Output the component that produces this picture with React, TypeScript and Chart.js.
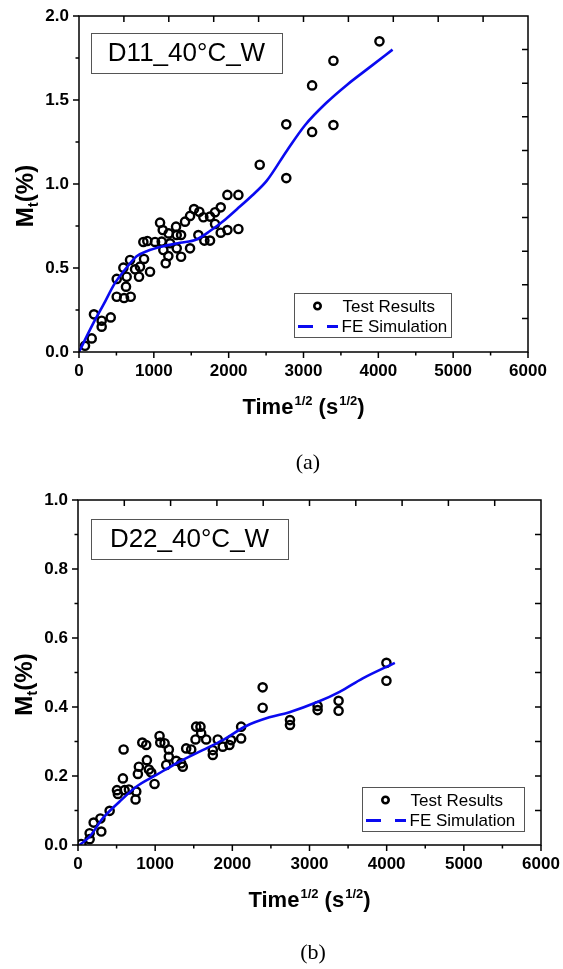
import React, { useEffect, useRef } from "react";
import { Chart, registerables } from "chart.js";

Chart.register(...registerables);

// ---------- Data: panel (a) D11_40°C_W ----------
const testXA = [80, 170, 200, 303, 303, 424, 504, 602, 691, 628, 504, 637, 593, 682, 749, 802, 815, 869, 949, 860, 913, 1016, 1083, 1119, 1105, 1127, 1159, 1194, 1199, 1217, 1297, 1306, 1306, 1364, 1364, 1417, 1484, 1484, 1537, 1595, 1608, 1662, 1675, 1751, 1751, 1818, 1818, 1894, 1894, 1983, 1983, 2130, 2130, 2415, 2770, 2770, 3115, 3115, 3400, 3400, 4015];
const testYA = [0.037, 0.081, 0.224, 0.186, 0.151, 0.206, 0.329, 0.321, 0.329, 0.389, 0.435, 0.448, 0.502, 0.548, 0.492, 0.448, 0.508, 0.554, 0.478, 0.655, 0.661, 0.655, 0.77, 0.726, 0.657, 0.607, 0.528, 0.571, 0.706, 0.647, 0.746, 0.696, 0.617, 0.567, 0.696, 0.776, 0.81, 0.617, 0.851, 0.696, 0.835, 0.802, 0.663, 0.663, 0.806, 0.832, 0.762, 0.861, 0.71, 0.935, 0.726, 0.935, 0.732, 1.115, 1.035, 1.355, 1.31, 1.587, 1.351, 1.734, 1.849];
const simXA = [0, 190, 325, 480, 615, 770, 905, 1130, 1350, 1570, 1750, 1930, 2110, 2310, 2510, 2780, 3020, 3310, 3580, 3900, 4190];
const simYA = [0, 0.17, 0.28, 0.41, 0.49, 0.57, 0.6, 0.63, 0.65, 0.67, 0.72, 0.78, 0.85, 0.93, 1.02, 1.2, 1.35, 1.485, 1.59, 1.7, 1.8];

// ---------- Data: panel (b) D22_40°C_W ----------
const testXB = [44, 151, 151, 203, 290, 302, 410, 505, 517, 582, 591, 604, 660, 746, 755, 776, 789, 833, 884, 893, 919, 949, 992, 1057, 1066, 1122, 1143, 1177, 1177, 1273, 1337, 1358, 1402, 1467, 1523, 1531, 1587, 1596, 1661, 1747, 1747, 1811, 1876, 1962, 1984, 2114, 2114, 2393, 2393, 2747, 2747, 3105, 3105, 3377, 3377, 3997, 3997];
const testYB = [0.003, 0.034, 0.017, 0.065, 0.077, 0.039, 0.099, 0.159, 0.148, 0.193, 0.277, 0.159, 0.161, 0.132, 0.155, 0.206, 0.227, 0.297, 0.29, 0.246, 0.219, 0.21, 0.177, 0.316, 0.297, 0.295, 0.232, 0.277, 0.256, 0.244, 0.237, 0.227, 0.28, 0.277, 0.306, 0.343, 0.343, 0.324, 0.306, 0.275, 0.261, 0.306, 0.285, 0.29, 0.304, 0.343, 0.309, 0.457, 0.398, 0.362, 0.348, 0.403, 0.391, 0.418, 0.389, 0.528, 0.476];
const simXB = [20, 150, 320, 540, 755, 1015, 1275, 1615, 1875, 2180, 2480, 2740, 3110, 3390, 3690, 4106];
const simYB = [0, 0.024, 0.077, 0.126, 0.169, 0.203, 0.237, 0.275, 0.304, 0.345, 0.37, 0.385, 0.415, 0.444, 0.483, 0.528];

// ---------- Labels ----------
const titleA = "D11_40°C_W";
const titleB = "D22_40°C_W";
const legendLabels = ["Test Results", "FE Simulation"];
const xTitleMain = ["Time", " (s", ")"];
const supText = "1/2";
const captionA = "(a)";
const captionB = "(b)";

const SANS = "'Liberation Sans', Arial, Helvetica, sans-serif";
const SERIF = "'Liberation Serif', 'Times New Roman', serif";
const BLUE = "#0a0af0";

type PanelCfg = {
  canvasH: number;
  pad: { left: number; right: number; top: number; bottom: number };
  yAxisW: number;
  xMax: number;
  xMajor: number;
  xMinor: number;
  yMax: number;
  yMajor: number;
  yMinor: number;
  topDivs: number;
  rightDivs: number;
  title: string;
  titleBox: { dx: number; dy: number; w: number; h: number };
  legendBox: { dx: number; dyb: number; w: number; h: number };
  testX: number[];
  testY: number[];
  simX: number[];
  simY: number[];
};

function decoPlugin(cfg: PanelCfg) {
  return {
    id: "deco",
    afterDatasetsDraw(chart: any) {
      const ctx: CanvasRenderingContext2D = chart.ctx;
      const a = chart.chartArea;
      const xs = chart.scales.x;
      const ys = chart.scales.y;
      ctx.save();
      ctx.strokeStyle = "#000";
      ctx.lineWidth = 1.5;
      ctx.lineCap = "butt";
      // frame
      ctx.strokeRect(a.left, a.top, a.right - a.left, a.bottom - a.top);
      ctx.beginPath();
      // bottom ticks (outward)
      for (let v = 0; v <= cfg.xMax + 1e-9; v += cfg.xMinor) {
        const px = xs.getPixelForValue(v);
        const major = Math.abs(v / cfg.xMajor - Math.round(v / cfg.xMajor)) < 1e-6;
        ctx.moveTo(px, a.bottom);
        ctx.lineTo(px, a.bottom + (major ? 6 : 3.5));
      }
      // left ticks (outward)
      for (let v = 0; v <= cfg.yMax + 1e-9; v += cfg.yMinor) {
        const py = ys.getPixelForValue(v);
        const major = Math.abs(v / cfg.yMajor - Math.round(v / cfg.yMajor)) < 1e-6;
        ctx.moveTo(a.left, py);
        ctx.lineTo(a.left - (major ? 6 : 3.5), py);
      }
      // top ticks (inward)
      for (let i = 1; i < cfg.topDivs; i++) {
        const px = xs.getPixelForValue((cfg.xMax / cfg.topDivs) * i);
        ctx.moveTo(px, a.top);
        ctx.lineTo(px, a.top + 6);
      }
      // right ticks (inward)
      for (let i = 1; i < cfg.rightDivs; i++) {
        const py = ys.getPixelForValue((cfg.yMax / cfg.rightDivs) * i);
        ctx.moveTo(a.right, py);
        ctx.lineTo(a.right - 6, py);
      }
      ctx.stroke();

      // title box
      const tb = cfg.titleBox;
      const tx = a.left + tb.dx;
      const ty = a.top + tb.dy;
      ctx.fillStyle = "#fff";
      ctx.fillRect(tx, ty, tb.w, tb.h);
      ctx.strokeStyle = "#555";
      ctx.lineWidth = 1;
      ctx.strokeRect(tx + 0.5, ty + 0.5, tb.w, tb.h);
      ctx.fillStyle = "#000";
      ctx.font = `26px ${SANS}`;
      ctx.textAlign = "center";
      ctx.textBaseline = "middle";
      ctx.fillText(cfg.title, tx + tb.w / 2, ty + tb.h / 2 + 1);

      // legend box
      const lb = cfg.legendBox;
      const lx = a.left + lb.dx;
      const ly = a.bottom - lb.dyb;
      ctx.fillStyle = "#fff";
      ctx.fillRect(lx, ly, lb.w, lb.h);
      ctx.strokeStyle = "#555";
      ctx.lineWidth = 1;
      ctx.strokeRect(lx + 0.5, ly + 0.5, lb.w, lb.h);
      const r1 = ly + 13;
      const r2 = ly + 33.5;
      // marker
      ctx.strokeStyle = "#000";
      ctx.lineWidth = 2.6;
      ctx.beginPath();
      ctx.arc(lx + 23.5, r1, 3.2, 0, Math.PI * 2);
      ctx.stroke();
      // dashed line sample
      ctx.strokeStyle = BLUE;
      ctx.lineWidth = 3;
      ctx.beginPath();
      ctx.moveTo(lx + 4, r2);
      ctx.lineTo(lx + 19, r2);
      ctx.moveTo(lx + 33, r2);
      ctx.lineTo(lx + 44, r2);
      ctx.stroke();
      ctx.fillStyle = "#000";
      ctx.font = `17px ${SANS}`;
      ctx.textAlign = "left";
      ctx.textBaseline = "middle";
      ctx.fillText(legendLabels[0], lx + 48.5, r1 + 1);
      ctx.fillText(legendLabels[1], lx + 47.5, r2 + 1);

      // x-axis title with superscripts
      const mainF = `bold 22px ${SANS}`;
      const supF = `bold 13px ${SANS}`;
      ctx.font = mainF;
      const w0 = ctx.measureText(xTitleMain[0]).width;
      const w1 = ctx.measureText(xTitleMain[1]).width;
      const w2 = ctx.measureText(xTitleMain[2]).width;
      ctx.font = supF;
      const ws = ctx.measureText(supText).width;
      const total = w0 + ws + w1 + ws + w2 + 2;
      let cx = (a.left + a.right) / 2 - total / 2;
      const base = a.bottom + 62;
      ctx.textAlign = "left";
      ctx.textBaseline = "alphabetic";
      ctx.font = mainF;
      ctx.fillText(xTitleMain[0], cx, base);
      cx += w0 + 1;
      ctx.font = supF;
      ctx.fillText(supText, cx, base - 9);
      cx += ws;
      ctx.font = mainF;
      ctx.fillText(xTitleMain[1], cx, base);
      cx += w1 + 1;
      ctx.font = supF;
      ctx.fillText(supText, cx, base - 9);
      cx += ws;
      ctx.font = mainF;
      ctx.fillText(xTitleMain[2], cx, base);

      // y-axis title M_t(%) rotated
      const yF = `bold 24px ${SANS}`;
      const subF = `bold 15px ${SANS}`;
      ctx.font = yF;
      const wm = ctx.measureText("M").width;
      const wp = ctx.measureText("(%)").width;
      ctx.font = subF;
      const wt = ctx.measureText("t").width;
      const ytot = wm + wt + wp;
      ctx.translate(a.left - 46, (a.top + a.bottom) / 2 + 12);
      ctx.rotate(-Math.PI / 2);
      let sx = -ytot / 2;
      ctx.font = yF;
      ctx.fillText("M", sx, 0);
      sx += wm;
      ctx.font = subF;
      ctx.fillText("t", sx, 5);
      sx += wt;
      ctx.font = yF;
      ctx.fillText("(%)", sx, 0);
      ctx.restore();
    },
  };
}

function Panel({ cfg }: { cfg: PanelCfg }) {
  const ref = useRef<HTMLCanvasElement | null>(null);
  useEffect(() => {
    if (!ref.current) return;
    const tickFont = { family: SANS, size: 17, weight: "bold" as const };
    const chart = new Chart(ref.current, {
      type: "scatter",
      data: {
        datasets: [
          {
            label: legendLabels[1],
            data: cfg.simX.map((x, i) => ({ x, y: cfg.simY[i] })),
            showLine: true,
            borderColor: BLUE,
            backgroundColor: BLUE,
            borderWidth: 2.6,
            pointRadius: 0,
            cubicInterpolationMode: "monotone",
          } as any,
          {
            label: legendLabels[0],
            data: cfg.testX.map((x, i) => ({ x, y: cfg.testY[i] })),
            showLine: false,
            pointStyle: "circle",
            pointRadius: 4.1,
            pointBorderWidth: 2.4,
            pointBorderColor: "#000",
            pointBackgroundColor: "rgba(0,0,0,0)",
            borderColor: "#000",
            backgroundColor: "rgba(0,0,0,0)",
          } as any,
        ],
      },
      options: {
        animation: false,
        responsive: false,
        maintainAspectRatio: false,
        devicePixelRatio: 1,
        layout: { padding: cfg.pad },
        plugins: { legend: { display: false }, tooltip: { enabled: false }, title: { display: false } },
        scales: {
          x: {
            type: "linear",
            min: 0,
            max: cfg.xMax,
            grid: { display: false, drawTicks: false },
            border: { display: false },
            ticks: {
              stepSize: cfg.xMajor,
              color: "#000",
              font: tickFont,
              padding: 9,
              maxRotation: 0,
              autoSkip: false,
              callback: (v: any) => String(Math.round(Number(v))),
            },
            afterFit: (s: any) => {
              s.height = 36;
              s.paddingLeft = 0;
              s.paddingRight = 0;
            },
          },
          y: {
            type: "linear",
            min: 0,
            max: cfg.yMax,
            grid: { display: false, drawTicks: false },
            border: { display: false },
            ticks: {
              stepSize: cfg.yMajor,
              color: "#000",
              font: tickFont,
              padding: 10,
              autoSkip: false,
              callback: (v: any) => Number(v).toFixed(1),
            },
            afterFit: (s: any) => {
              s.width = cfg.yAxisW;
              s.paddingTop = 0;
              s.paddingBottom = 0;
            },
          },
        },
      } as any,
      plugins: [decoPlugin(cfg)],
    });
    return () => chart.destroy();
  }, [cfg]);
  return <canvas ref={ref} width={563} height={cfg.canvasH} style={{ display: "block", width: 563, height: cfg.canvasH }} />;
}

const cfgA: PanelCfg = {
  canvasH: 440,
  pad: { left: 0, right: 35, top: 16, bottom: 52 },
  yAxisW: 79,
  xMax: 6000,
  xMajor: 1000,
  xMinor: 500,
  yMax: 2.0,
  yMajor: 0.5,
  yMinor: 0.25,
  topDivs: 10,
  rightDivs: 10,
  title: titleA,
  titleBox: { dx: 12, dy: 17, w: 191, h: 40 },
  legendBox: { dx: 215, dyb: 59, w: 157, h: 44 },
  testX: testXA,
  testY: testYA,
  simX: simXA,
  simY: simYA,
};

const cfgB: PanelCfg = {
  canvasH: 470,
  pad: { left: 0, right: 22, top: 30, bottom: 59 },
  yAxisW: 78,
  xMax: 6000,
  xMajor: 1000,
  xMinor: 500,
  yMax: 1.0,
  yMajor: 0.2,
  yMinor: 0.1,
  topDivs: 10,
  rightDivs: 10,
  title: titleB,
  titleBox: { dx: 13, dy: 19, w: 197, h: 40 },
  legendBox: { dx: 284, dyb: 58, w: 162, h: 44 },
  testX: testXB,
  testY: testYB,
  simX: simXB,
  simY: simYB,
};

export default function App() {
  const caption: React.CSSProperties = {
    position: "absolute",
    width: 100,
    textAlign: "center",
    fontFamily: SERIF,
    fontSize: 22,
    lineHeight: "24px",
    color: "#000",
  };
  return (
    <div style={{ position: "absolute", left: 0, top: 0, width: 563, height: 969, background: "#fff", overflow: "hidden" }}>
      <div style={{ position: "absolute", left: 0, top: 0 }}>
        <Panel cfg={cfgA} />
      </div>
      <div style={{ position: "absolute", left: 0, top: 470 }}>
        <Panel cfg={cfgB} />
      </div>
      <div style={{ ...caption, left: 258, top: 450 }}>{captionA}</div>
      <div style={{ ...caption, left: 263, top: 940 }}>{captionB}</div>
    </div>
  );
}
